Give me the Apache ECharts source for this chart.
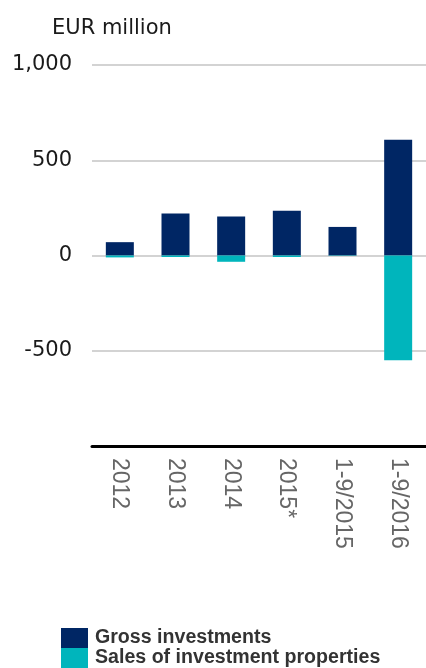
<!DOCTYPE html>
<html>
<head>
<meta charset="utf-8">
<script src="https://cdn.jsdelivr.net/npm/echarts@6/dist/echarts.min.js"></script>
<style>
html,body{margin:0;padding:0;background:#fff;}
#chart{width:426px;height:668px;}
</style>
</head>
<body>
<div id="chart"></div>
<script>
var categories = ['2012', '2013', '2014', '2015*', '1-9/2015', '1-9/2016'];
var grossInvestments = [70, 220, 205, 235, 150, 607];
var salesOfInvestmentProperties = [-10, -8, -33, -8, -2, -550];
var yTicks = [-1000, -500, 0, 500, 1000];

var chart = echarts.init(document.getElementById('chart'));
chart.setOption({
  animation: false,
  backgroundColor: '#fff',
  title: {
    text: 'EUR million',
    left: 47,
    top: 13,
    textStyle: {fontFamily: 'DejaVu Sans', fontSize: 21, fontWeight: 'normal', color: '#1a1a1a'}
  },
  legend: {
    orient: 'vertical',
    left: 61,
    top: 628,
    padding: 0,
    itemWidth: 27,
    itemHeight: 20,
    itemGap: 0,
    icon: 'rect',
    textStyle: {fontFamily: 'Liberation Sans', fontSize: 19.6, fontWeight: 'bold', color: '#333', lineHeight: 20, padding: [0, 0, 0, 2]},
    data: ['Gross investments', 'Sales of investment properties']
  },
  grid: {left: 92, right: -2, top: 65, bottom: 222},
  xAxis: {
    type: 'category',
    data: categories,
    axisLine: {onZero: false, lineStyle: {color: '#000', width: 3}},
    axisTick: {show: false},
    axisLabel: {rotate: -90, margin: 12, fontFamily: 'Liberation Sans', fontSize: 23, color: '#666'}
  },
  yAxis: {
    type: 'value',
    min: yTicks[0],
    max: yTicks[yTicks.length - 1],
    interval: 500,
    axisLine: {show: false},
    axisTick: {show: false},
    splitLine: {lineStyle: {color: '#c4c4c4', width: 1.5}},
    axisLabel: {
      margin: 20,
      fontFamily: 'DejaVu Sans', fontSize: 21, color: '#1a1a1a',
      formatter: function (v) { return v === yTicks[0] ? '' : v.toLocaleString('en-US'); }
    }
  },
  series: [
    {name: 'Gross investments', type: 'bar', stack: 'total', barWidth: 28, data: grossInvestments, itemStyle: {color: '#002664'}},
    {name: 'Sales of investment properties', type: 'bar', stack: 'total', barWidth: 28, data: salesOfInvestmentProperties, itemStyle: {color: '#00b5bc'}}
  ]
});
</script>
</body>
</html>
